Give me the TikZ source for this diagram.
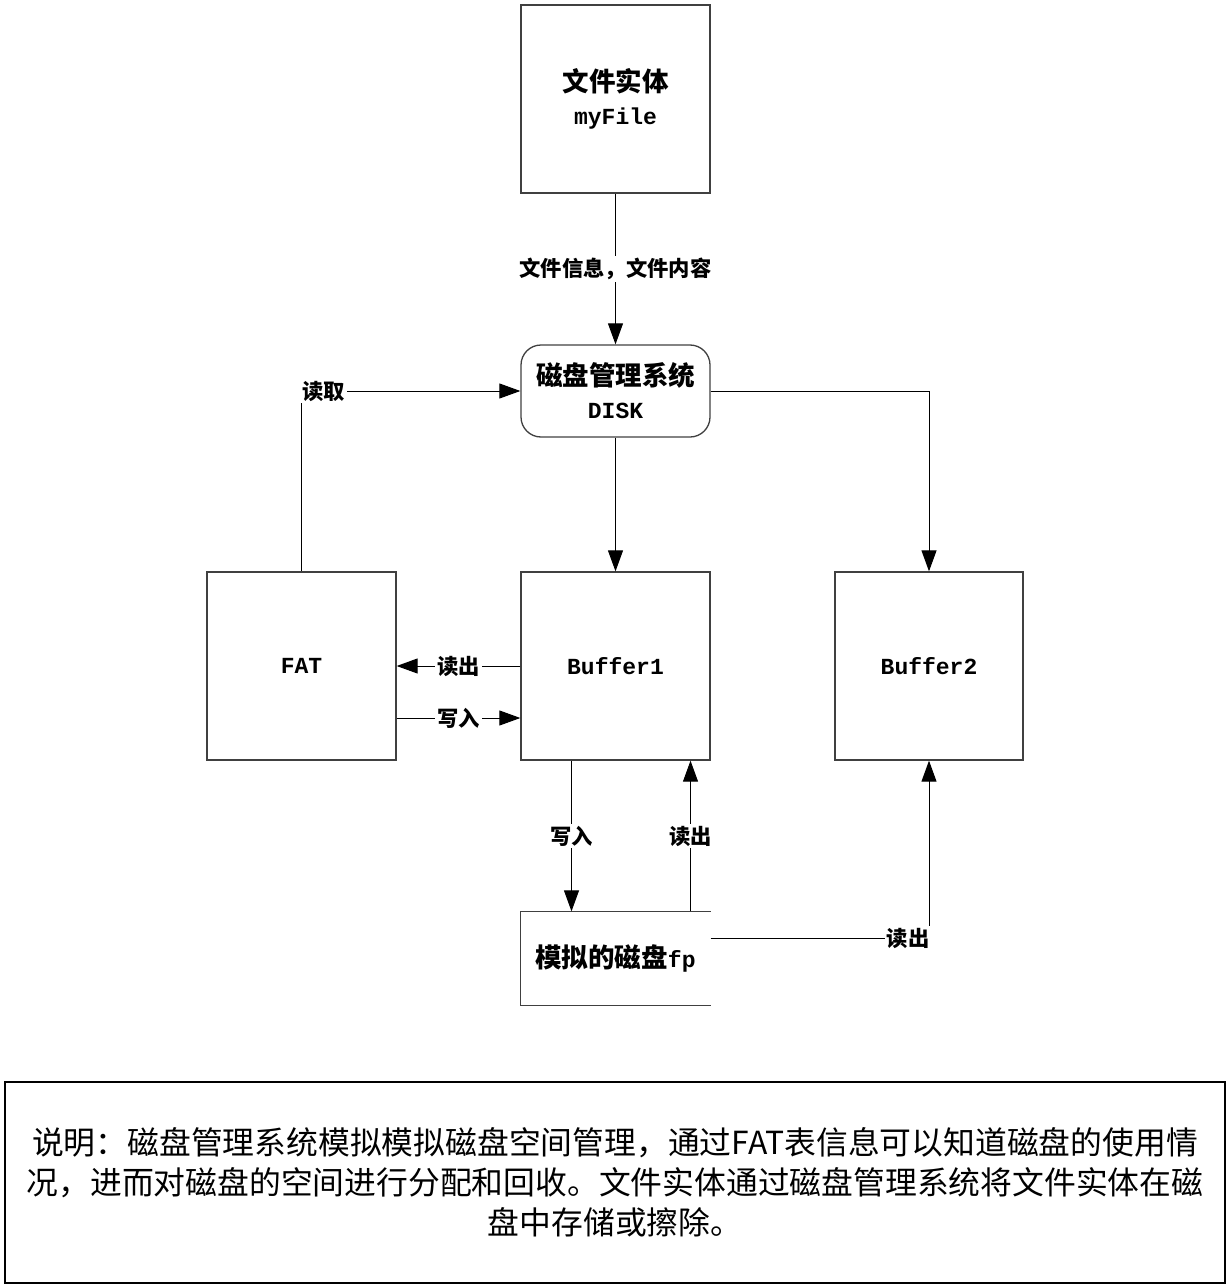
\documentclass[tikz,border=0pt]{standalone}
\usepackage{fontspec}
\setmainfont{Liberation Mono}
\newfontfamily\cjk{Noto Sans CJK SC}
\usetikzlibrary{arrows.meta}
\newcommand\zhT[1]{{\cjk\fontsize{26.5}{33}\selectfont #1}}
\begin{document}
\begin{tikzpicture}[x=1pt,y=-1pt,
  box/.style={draw=black!75,line width=1.3pt,minimum width=189pt,minimum height=188pt,inner sep=0pt,align=center,
    font=\bfseries\fontsize{23}{33}\selectfont},
  arr/.style={line width=1pt,-{Triangle[length=21pt,width=15pt]}},
  lbl/.style={fill=white,inner sep=2pt,font=\cjk\bfseries\fontsize{21.3}{24}\selectfont},
  plain/.style={line width=1pt}
]
\useasboundingbox (0,0) rectangle (1229,1287);
\node[box] (file) at (615.5,99) {\zhT{文件实体}\\myFile};
\node[box,minimum height=92pt,rounded corners=20pt] (disk) at (615.5,391) {\zhT{磁盘管理系统}\\DISK};
\node[box] (fat) at (301.5,666) {FAT};
\node[box] (buf1) at (615.5,666) {Buffer1};
\node[box,minimum width=188pt] (buf2) at (929,666) {Buffer2};
\node[box,draw=none,minimum height=93pt] (fp) at (615.5,958.5) {\zhT{模拟的磁盘}fp};
\draw[draw=black!75,line width=1.3pt] (fp.north east) -- (fp.north west) -- (fp.south west) -- (fp.south east);

\draw[arr] (file) -- node[lbl]{文件信息，文件内容} (disk);
\draw[arr] (disk) -- (buf1);
\draw[arr] (fat.north) |- node[lbl,pos=0.5,anchor=west,xshift=-2pt]{读取} (disk.west);
\draw[arr] (disk.east) -| (buf2.north);
\draw[arr] (buf1.west) -- node[lbl]{读出} (fat.east);
\draw[arr] ([yshift=-52pt]fat.east) -- node[lbl]{写入} ([yshift=-52pt]buf1.west);
\draw[arr] ([xshift=-44pt]buf1.south) -- node[lbl]{写入} ([xshift=-44pt]fp.north);
\draw[arr] ([xshift=75pt]fp.north) -- node[lbl]{读出} ([xshift=75pt]buf1.south);
\draw[arr] ([yshift=20pt]fp.east) -| node[lbl,pos=0.5,anchor=east,xshift=3pt]{读出} (buf2.south);

\node[draw=black,line width=2.5pt,minimum width=1220pt,minimum height=201pt,inner sep=0pt,align=center,
  font=\cjk\fontsize{31.8}{40}\selectfont] (note) at (615,1182.5)
  {说明：磁盘管理系统模拟模拟磁盘空间管理，通过FAT表信息可以知道磁盘的使用情\\
   况，进而对磁盘的空间进行分配和回收。文件实体通过磁盘管理系统将文件实体在磁\\
   盘中存储或擦除。};
\end{tikzpicture}
\end{document}
